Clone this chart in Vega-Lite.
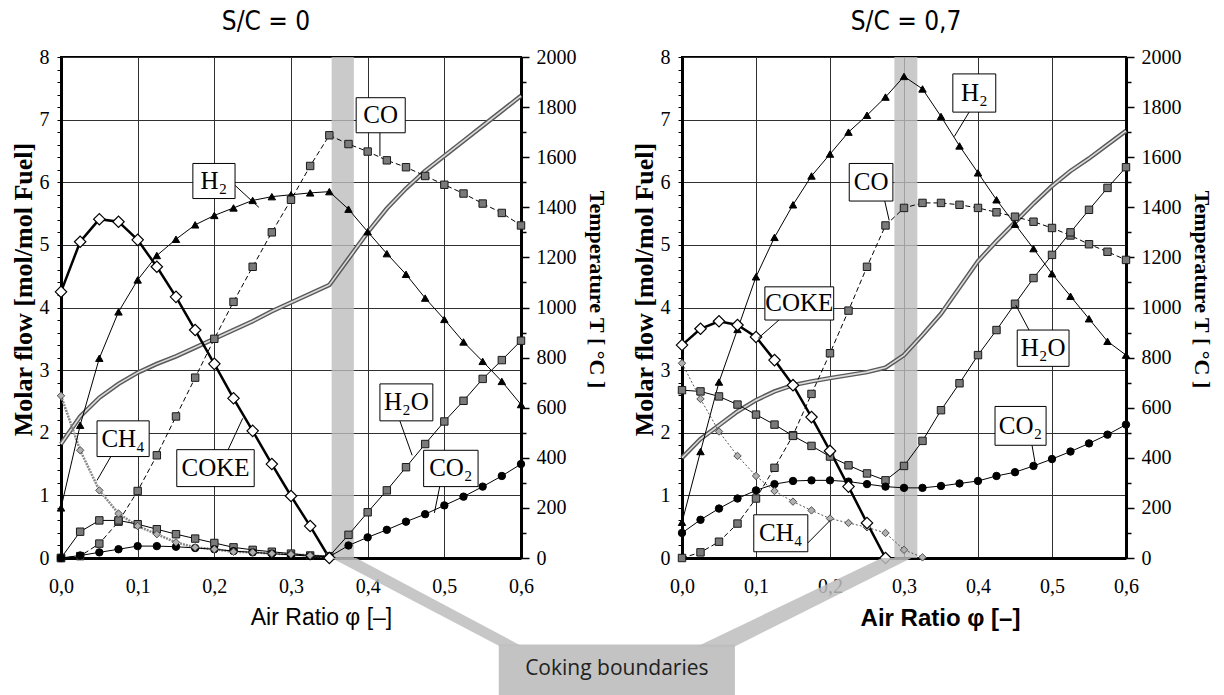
{
"$schema": "https://vega.github.io/schema/vega-lite/v6.json",
"autosize": {"type": "pad"},
"padding": {"left": 9, "top": 8, "right": 0, "bottom": 0},
"background": "white",
"bounds": "flush",
"spacing": 161,
"config": {"view": {"stroke": "black", "strokeWidth": 2}},
"datasets": {
"L": [
{"s":"COKE","phi":0,"v":4.25},{"s":"COKE","phi":0.025,"v":5.05},{"s":"COKE","phi":0.05,"v":5.41},{"s":"COKE","phi":0.075,"v":5.37},{"s":"COKE","phi":0.1,"v":5.08},{"s":"COKE","phi":0.125,"v":4.65},{"s":"COKE","phi":0.15,"v":4.17},{"s":"COKE","phi":0.175,"v":3.64},{"s":"COKE","phi":0.2,"v":3.10},{"s":"COKE","phi":0.225,"v":2.55},{"s":"COKE","phi":0.25,"v":2.03},{"s":"COKE","phi":0.275,"v":1.50},{"s":"COKE","phi":0.3,"v":0.99},{"s":"COKE","phi":0.325,"v":0.51},{"s":"COKE","phi":0.35,"v":0},
{"s":"H2","phi":0,"v":0.80},{"s":"H2","phi":0.025,"v":2.12},{"s":"H2","phi":0.05,"v":3.19},{"s":"H2","phi":0.075,"v":3.93},{"s":"H2","phi":0.1,"v":4.44},{"s":"H2","phi":0.125,"v":4.83},{"s":"H2","phi":0.15,"v":5.09},{"s":"H2","phi":0.175,"v":5.32},{"s":"H2","phi":0.2,"v":5.47},{"s":"H2","phi":0.225,"v":5.59},{"s":"H2","phi":0.25,"v":5.71},{"s":"H2","phi":0.275,"v":5.77},{"s":"H2","phi":0.3,"v":5.80},{"s":"H2","phi":0.325,"v":5.83},{"s":"H2","phi":0.35,"v":5.85},{"s":"H2","phi":0.375,"v":5.57},{"s":"H2","phi":0.4,"v":5.21},{"s":"H2","phi":0.425,"v":4.86},{"s":"H2","phi":0.45,"v":4.53},{"s":"H2","phi":0.475,"v":4.15},{"s":"H2","phi":0.5,"v":3.81},{"s":"H2","phi":0.525,"v":3.45},{"s":"H2","phi":0.55,"v":3.14},{"s":"H2","phi":0.575,"v":2.82},{"s":"H2","phi":0.6,"v":2.45},
{"s":"CO","phi":0,"v":0},{"s":"CO","phi":0.025,"v":0.03},{"s":"CO","phi":0.05,"v":0.23},{"s":"CO","phi":0.075,"v":0.58},{"s":"CO","phi":0.1,"v":1.07},{"s":"CO","phi":0.125,"v":1.64},{"s":"CO","phi":0.15,"v":2.26},{"s":"CO","phi":0.175,"v":2.88},{"s":"CO","phi":0.2,"v":3.50},{"s":"CO","phi":0.225,"v":4.09},{"s":"CO","phi":0.25,"v":4.65},{"s":"CO","phi":0.275,"v":5.20},{"s":"CO","phi":0.3,"v":5.72},{"s":"CO","phi":0.325,"v":6.26},{"s":"CO","phi":0.35,"v":6.75},{"s":"CO","phi":0.375,"v":6.61},{"s":"CO","phi":0.4,"v":6.49},{"s":"CO","phi":0.425,"v":6.35},{"s":"CO","phi":0.45,"v":6.24},{"s":"CO","phi":0.475,"v":6.10},{"s":"CO","phi":0.5,"v":5.96},{"s":"CO","phi":0.525,"v":5.82},{"s":"CO","phi":0.55,"v":5.66},{"s":"CO","phi":0.575,"v":5.51},{"s":"CO","phi":0.6,"v":5.31},
{"s":"H2O","phi":0,"v":0},{"s":"H2O","phi":0.025,"v":0.42},{"s":"H2O","phi":0.05,"v":0.60},{"s":"H2O","phi":0.075,"v":0.60},{"s":"H2O","phi":0.1,"v":0.54},{"s":"H2O","phi":0.125,"v":0.46},{"s":"H2O","phi":0.15,"v":0.38},{"s":"H2O","phi":0.175,"v":0.31},{"s":"H2O","phi":0.2,"v":0.24},{"s":"H2O","phi":0.225,"v":0.17},{"s":"H2O","phi":0.25,"v":0.13},{"s":"H2O","phi":0.275,"v":0.10},{"s":"H2O","phi":0.3,"v":0.07},{"s":"H2O","phi":0.325,"v":0.04},{"s":"H2O","phi":0.35,"v":0.03},{"s":"H2O","phi":0.375,"v":0.37},{"s":"H2O","phi":0.4,"v":0.73},{"s":"H2O","phi":0.425,"v":1.08},{"s":"H2O","phi":0.45,"v":1.45},{"s":"H2O","phi":0.475,"v":1.82},{"s":"H2O","phi":0.5,"v":2.18},{"s":"H2O","phi":0.525,"v":2.51},{"s":"H2O","phi":0.55,"v":2.86},{"s":"H2O","phi":0.575,"v":3.16},{"s":"H2O","phi":0.6,"v":3.47},
{"s":"CO2","phi":0,"v":0},{"s":"CO2","phi":0.025,"v":0.04},{"s":"CO2","phi":0.05,"v":0.09},{"s":"CO2","phi":0.075,"v":0.14},{"s":"CO2","phi":0.1,"v":0.19},{"s":"CO2","phi":0.125,"v":0.19},{"s":"CO2","phi":0.15,"v":0.18},{"s":"CO2","phi":0.175,"v":0.16},{"s":"CO2","phi":0.2,"v":0.14},{"s":"CO2","phi":0.225,"v":0.11},{"s":"CO2","phi":0.25,"v":0.09},{"s":"CO2","phi":0.275,"v":0.07},{"s":"CO2","phi":0.3,"v":0.05},{"s":"CO2","phi":0.325,"v":0.03},{"s":"CO2","phi":0.35,"v":0.02},{"s":"CO2","phi":0.375,"v":0.20},{"s":"CO2","phi":0.4,"v":0.33},{"s":"CO2","phi":0.425,"v":0.45},{"s":"CO2","phi":0.45,"v":0.58},{"s":"CO2","phi":0.475,"v":0.70},{"s":"CO2","phi":0.5,"v":0.84},{"s":"CO2","phi":0.525,"v":0.98},{"s":"CO2","phi":0.55,"v":1.14},{"s":"CO2","phi":0.575,"v":1.31},{"s":"CO2","phi":0.6,"v":1.50},
{"s":"CH4","phi":0,"v":2.59},{"s":"CH4","phi":0.025,"v":1.72},{"s":"CH4","phi":0.05,"v":1.08},{"s":"CH4","phi":0.075,"v":0.71},{"s":"CH4","phi":0.1,"v":0.51},{"s":"CH4","phi":0.125,"v":0.38},{"s":"CH4","phi":0.15,"v":0.25},{"s":"CH4","phi":0.175,"v":0.17},{"s":"CH4","phi":0.2,"v":0.14},{"s":"CH4","phi":0.225,"v":0.10},{"s":"CH4","phi":0.25,"v":0.09},{"s":"CH4","phi":0.275,"v":0.07},{"s":"CH4","phi":0.3,"v":0.06},{"s":"CH4","phi":0.325,"v":0.04},{"s":"CH4","phi":0.35,"v":0.02}
],
"R": [
{"s":"COKE","phi":0,"v":3.40},{"s":"COKE","phi":0.025,"v":3.66},{"s":"COKE","phi":0.05,"v":3.78},{"s":"COKE","phi":0.075,"v":3.72},{"s":"COKE","phi":0.1,"v":3.53},{"s":"COKE","phi":0.125,"v":3.16},{"s":"COKE","phi":0.15,"v":2.76},{"s":"COKE","phi":0.175,"v":2.25},{"s":"COKE","phi":0.2,"v":1.71},{"s":"COKE","phi":0.225,"v":1.14},{"s":"COKE","phi":0.25,"v":0.56},{"s":"COKE","phi":0.275,"v":0},
{"s":"H2","phi":0,"v":0.57},{"s":"H2","phi":0.025,"v":1.70},{"s":"H2","phi":0.05,"v":2.81},{"s":"H2","phi":0.075,"v":3.65},{"s":"H2","phi":0.1,"v":4.49},{"s":"H2","phi":0.125,"v":5.12},{"s":"H2","phi":0.15,"v":5.64},{"s":"H2","phi":0.175,"v":6.10},{"s":"H2","phi":0.2,"v":6.45},{"s":"H2","phi":0.225,"v":6.80},{"s":"H2","phi":0.25,"v":7.07},{"s":"H2","phi":0.275,"v":7.36},{"s":"H2","phi":0.3,"v":7.69},{"s":"H2","phi":0.325,"v":7.49},{"s":"H2","phi":0.35,"v":7.05},{"s":"H2","phi":0.375,"v":6.58},{"s":"H2","phi":0.4,"v":6.15},{"s":"H2","phi":0.425,"v":5.72},{"s":"H2","phi":0.45,"v":5.33},{"s":"H2","phi":0.475,"v":4.94},{"s":"H2","phi":0.5,"v":4.54},{"s":"H2","phi":0.525,"v":4.18},{"s":"H2","phi":0.55,"v":3.82},{"s":"H2","phi":0.575,"v":3.46},{"s":"H2","phi":0.6,"v":3.24},
{"s":"CO","phi":0,"v":0},{"s":"CO","phi":0.025,"v":0.09},{"s":"CO","phi":0.05,"v":0.26},{"s":"CO","phi":0.075,"v":0.55},{"s":"CO","phi":0.1,"v":0.95},{"s":"CO","phi":0.125,"v":1.44},{"s":"CO","phi":0.15,"v":1.96},{"s":"CO","phi":0.175,"v":2.62},{"s":"CO","phi":0.2,"v":3.27},{"s":"CO","phi":0.225,"v":3.95},{"s":"CO","phi":0.25,"v":4.65},{"s":"CO","phi":0.275,"v":5.31},{"s":"CO","phi":0.3,"v":5.59},{"s":"CO","phi":0.325,"v":5.67},{"s":"CO","phi":0.35,"v":5.67},{"s":"CO","phi":0.375,"v":5.64},{"s":"CO","phi":0.4,"v":5.59},{"s":"CO","phi":0.425,"v":5.52},{"s":"CO","phi":0.45,"v":5.45},{"s":"CO","phi":0.475,"v":5.37},{"s":"CO","phi":0.5,"v":5.27},{"s":"CO","phi":0.525,"v":5.15},{"s":"CO","phi":0.55,"v":5.01},{"s":"CO","phi":0.575,"v":4.89},{"s":"CO","phi":0.6,"v":4.76},
{"s":"H2O","phi":0,"v":2.68},{"s":"H2O","phi":0.025,"v":2.66},{"s":"H2O","phi":0.05,"v":2.58},{"s":"H2O","phi":0.075,"v":2.45},{"s":"H2O","phi":0.1,"v":2.29},{"s":"H2O","phi":0.125,"v":2.13},{"s":"H2O","phi":0.15,"v":1.95},{"s":"H2O","phi":0.175,"v":1.79},{"s":"H2O","phi":0.2,"v":1.62},{"s":"H2O","phi":0.225,"v":1.48},{"s":"H2O","phi":0.25,"v":1.35},{"s":"H2O","phi":0.275,"v":1.24},{"s":"H2O","phi":0.3,"v":1.47},{"s":"H2O","phi":0.325,"v":1.87},{"s":"H2O","phi":0.35,"v":2.36},{"s":"H2O","phi":0.375,"v":2.79},{"s":"H2O","phi":0.4,"v":3.24},{"s":"H2O","phi":0.425,"v":3.64},{"s":"H2O","phi":0.45,"v":4.06},{"s":"H2O","phi":0.475,"v":4.47},{"s":"H2O","phi":0.5,"v":4.84},{"s":"H2O","phi":0.525,"v":5.20},{"s":"H2O","phi":0.55,"v":5.56},{"s":"H2O","phi":0.575,"v":5.91},{"s":"H2O","phi":0.6,"v":6.24},
{"s":"CO2","phi":0,"v":0.40},{"s":"CO2","phi":0.025,"v":0.61},{"s":"CO2","phi":0.05,"v":0.79},{"s":"CO2","phi":0.075,"v":0.95},{"s":"CO2","phi":0.1,"v":1.08},{"s":"CO2","phi":0.125,"v":1.18},{"s":"CO2","phi":0.15,"v":1.23},{"s":"CO2","phi":0.175,"v":1.24},{"s":"CO2","phi":0.2,"v":1.24},{"s":"CO2","phi":0.225,"v":1.22},{"s":"CO2","phi":0.25,"v":1.18},{"s":"CO2","phi":0.275,"v":1.14},{"s":"CO2","phi":0.3,"v":1.12},{"s":"CO2","phi":0.325,"v":1.12},{"s":"CO2","phi":0.35,"v":1.15},{"s":"CO2","phi":0.375,"v":1.19},{"s":"CO2","phi":0.4,"v":1.23},{"s":"CO2","phi":0.425,"v":1.31},{"s":"CO2","phi":0.45,"v":1.37},{"s":"CO2","phi":0.475,"v":1.47},{"s":"CO2","phi":0.5,"v":1.58},{"s":"CO2","phi":0.525,"v":1.70},{"s":"CO2","phi":0.55,"v":1.83},{"s":"CO2","phi":0.575,"v":1.97},{"s":"CO2","phi":0.6,"v":2.13},
{"s":"CH4","phi":0,"v":3.11},{"s":"CH4","phi":0.025,"v":2.54},{"s":"CH4","phi":0.05,"v":2.02},{"s":"CH4","phi":0.075,"v":1.63},{"s":"CH4","phi":0.1,"v":1.31},{"s":"CH4","phi":0.125,"v":1.07},{"s":"CH4","phi":0.15,"v":0.90},{"s":"CH4","phi":0.175,"v":0.76},{"s":"CH4","phi":0.2,"v":0.63},{"s":"CH4","phi":0.225,"v":0.56},{"s":"CH4","phi":0.25,"v":0.49},{"s":"CH4","phi":0.275,"v":0.40},{"s":"CH4","phi":0.3,"v":0.13},{"s":"CH4","phi":0.325,"v":0.01}
],
"LT": [
{"phi":0,"T":455},{"phi":0.025,"T":565},{"phi":0.05,"T":640},{"phi":0.075,"T":695},{"phi":0.1,"T":740},{"phi":0.125,"T":775},{"phi":0.15,"T":805},{"phi":0.175,"T":840},{"phi":0.2,"T":875},{"phi":0.225,"T":910},{"phi":0.25,"T":945},{"phi":0.275,"T":985},{"phi":0.3,"T":1020},{"phi":0.325,"T":1055},{"phi":0.35,"T":1090},{"phi":0.375,"T":1195},{"phi":0.4,"T":1300},{"phi":0.425,"T":1395},{"phi":0.45,"T":1475},{"phi":0.475,"T":1545},{"phi":0.5,"T":1605},{"phi":0.525,"T":1665},{"phi":0.55,"T":1725},{"phi":0.575,"T":1785},{"phi":0.6,"T":1845}
],
"RT": [
{"phi":0,"T":400},{"phi":0.025,"T":475},{"phi":0.05,"T":530},{"phi":0.075,"T":585},{"phi":0.1,"T":630},{"phi":0.125,"T":665},{"phi":0.15,"T":690},{"phi":0.175,"T":705},{"phi":0.2,"T":718},{"phi":0.225,"T":730},{"phi":0.25,"T":742},{"phi":0.275,"T":760},{"phi":0.3,"T":810},{"phi":0.325,"T":890},{"phi":0.35,"T":975},{"phi":0.375,"T":1080},{"phi":0.4,"T":1185},{"phi":0.425,"T":1265},{"phi":0.45,"T":1340},{"phi":0.475,"T":1415},{"phi":0.5,"T":1485},{"phi":0.525,"T":1545},{"phi":0.55,"T":1595},{"phi":0.575,"T":1650},{"phi":0.6,"T":1705}
],
"LA": [
{"lab":"CO","x1":0.385,"x2":0.449,"y1":7.35,"y2":6.79,"tx":0.417,"ty":7.07,"lx1":0.416,"ly1":6.79,"lx2":0.416,"ly2":6.42},
{"lab":"H₂","x1":0.172,"x2":0.227,"y1":6.30,"y2":5.74,"tx":0.1995,"ty":6.02,"lx1":0.227,"ly1":5.95,"lx2":0.258,"ly2":5.60},
{"lab":"CH₄","x1":0.047,"x2":0.115,"y1":2.19,"y2":1.62,"tx":0.081,"ty":1.905,"lx1":0.065,"ly1":1.62,"lx2":0.047,"ly2":1.24},
{"lab":"COKE","x1":0.151,"x2":0.252,"y1":1.73,"y2":1.14,"tx":0.2015,"ty":1.435,"lx1":0.218,"ly1":1.73,"lx2":0.237,"ly2":2.23},
{"lab":"H₂O","x1":0.416,"x2":0.485,"y1":2.78,"y2":2.19,"tx":0.4505,"ty":2.485,"lx1":0.442,"ly1":2.19,"lx2":0.458,"ly2":1.64},
{"lab":"CO₂","x1":0.473,"x2":0.544,"y1":1.72,"y2":1.14,"tx":0.5085,"ty":1.43,"lx1":0.494,"ly1":1.14,"lx2":0.487,"ly2":0.72}
],
"RA": [
{"lab":"H₂","x1":0.366,"x2":0.424,"y1":7.73,"y2":7.12,"tx":0.395,"ty":7.425,"lx1":0.388,"ly1":7.12,"lx2":0.368,"ly2":6.73},
{"lab":"CO","x1":0.226,"x2":0.285,"y1":6.30,"y2":5.70,"tx":0.2555,"ty":6.0,"lx1":0.274,"ly1":5.70,"lx2":0.280,"ly2":5.39},
{"lab":"COKE","x1":0.112,"x2":0.205,"y1":4.33,"y2":3.80,"tx":0.1585,"ty":4.065,"lx1":0.131,"ly1":3.80,"lx2":0.103,"ly2":3.51},
{"lab":"CH₄","x1":0.097,"x2":0.170,"y1":0.69,"y2":0.10,"tx":0.1335,"ty":0.395,"lx1":0.170,"ly1":0.24,"lx2":0.201,"ly2":0.61},
{"lab":"H₂O","x1":0.453,"x2":0.523,"y1":3.64,"y2":3.06,"tx":0.488,"ty":3.35,"lx1":0.469,"ly1":3.64,"lx2":0.451,"ly2":4.04},
{"lab":"CO₂","x1":0.423,"x2":0.492,"y1":2.42,"y2":1.80,"tx":0.4575,"ty":2.11,"lx1":0.473,"ly1":1.80,"lx2":0.477,"ly2":1.53}
],
"LS": [{"v":0,"a":0.353,"b":0.385},{"v":-1.40,"a":0.571,"b":0.600}],
"RS": [{"v":0,"a":0.27,"b":0.31},{"v":-1.42,"a":0.019,"b":0.07}]
},
"hconcat": [
{
"width": 460, "height": 501,
"title": {"text": "S/C = 0", "frame": "group", "dx": -25, "offset": 12, "font": "Liberation Sans Narrow, DejaVu Sans Condensed, Liberation Sans", "fontSize": 26, "fontWeight": "normal", "color": "black"},
"resolve": {"scale": {"y": "independent"}},
"layer": [
{"data": {"values": [{"a": 0.353, "b": 0.382}]}, "mark": {"type": "rect", "fill": "#bdbdbd", "opacity": 0.8},
 "encoding": {"x": {"field": "a", "type": "quantitative", "scale": {"domain": [0, 0.6], "nice": false}}, "x2": {"field": "b"}}},
{"data": {"name": "LT"},
 "encoding": {"x": {"field": "phi", "type": "quantitative", "scale": {"domain": [0, 0.6], "nice": false}},
   "y": {"field": "T", "type": "quantitative", "scale": {"domain": [0, 2000], "nice": false},
     "axis": {"orient": "right", "values": [0,100,200,300,400,500,600,700,800,900,1000,1100,1200,1300,1400,1500,1600,1700,1800,1900,2000],
       "labelExpr": "datum.value % 200 === 0 ? format(datum.value, 'd') : ''", "labelOverlap": false, "labelFlush": false, "grid": false,
       "tickSize": {"condition": {"test": "datum.value % 200 === 0", "value": 8}, "value": 5}, "tickWidth": 1.5, "tickColor": "black",
       "domainWidth": 3, "domainColor": "black", "labelFont": "Liberation Serif", "labelFontSize": 20, "labelColor": "black", "labelPadding": 7,
       "title": "Temperature T [ °C ]", "titleFont": "Liberation Serif", "titleFontSize": 22, "titleFontWeight": "bold", "titleColor": "black", "titlePadding": 8, "titleY": 232}}},
 "layer": [
   {"mark": {"type": "line", "stroke": "#5a5a5a", "strokeWidth": 4.5}},
   {"mark": {"type": "line", "stroke": "#dcdcdc", "strokeWidth": 1.6}}
 ]},
{"data": {"name": "L"},
 "encoding": {"x": {"field": "phi", "type": "quantitative", "scale": {"domain": [0, 0.6], "nice": false},
     "axis": {"values": [0,0.1,0.2,0.3,0.4,0.5,0.6], "labelExpr": "replace(format(datum.value, '.1f'), '.', ',')", "labelFlush": false, "grid": true, "gridColor": "#303030", "gridWidth": 1,
       "ticks": false, "tickSize": 0, "domainWidth": 3, "domainColor": "black", "labelFont": "Liberation Serif", "labelFontSize": 20, "labelColor": "black", "labelPadding": 18,
       "title": "Air Ratio  φ [–]", "titleFont": "Liberation Sans", "titleFontSize": 23, "titleFontWeight": "normal", "titleColor": "black", "titlePadding": 10, "titleX": 260}},
   "y": {"field": "v", "type": "quantitative", "scale": {"domain": [0, 8], "nice": false},
     "axis": {"orient": "left", "values": [0,0.2,0.4,0.6,0.8,1,1.2,1.4,1.6,1.8,2,2.2,2.4,2.6,2.8,3,3.2,3.4,3.6,3.8,4,4.2,4.4,4.6,4.8,5,5.2,5.4,5.6,5.8,6,6.2,6.4,6.6,6.8,7,7.2,7.4,7.6,7.8,8],
       "labelExpr": "datum.value % 1 === 0 ? format(datum.value, 'd') : ''", "labelOverlap": false, "labelFlush": false, "grid": true, "gridColor": "#303030", "gridWidth": 1,
       "gridOpacity": {"condition": {"test": "datum.value % 1 === 0", "value": 1}, "value": 0},
       "tickSize": 4, "tickColor": "black", "domainWidth": 3, "domainColor": "black", "labelFont": "Liberation Serif", "labelFontSize": 20, "labelColor": "black", "labelPadding": 8,
       "title": "Molar flow [mol/mol Fuel]", "titleFont": "Liberation Serif", "titleFontSize": 26, "titleFontWeight": "bold", "titleColor": "black", "titlePadding": 3, "titleY": 232}}},
 "layer": [
   {"transform": [{"filter": "datum.s === 'CH4'"}], "mark": {"type": "line", "stroke": "#8a8a8a", "strokeWidth": 2.5, "strokeDash": [2, 1]}},
   {"transform": [{"filter": "datum.s === 'CO'"}], "mark": {"type": "line", "stroke": "black", "strokeWidth": 1, "strokeDash": [5, 3]}},
   {"transform": [{"filter": "datum.s === 'H2' || datum.s === 'H2O' || datum.s === 'CO2'"}], "mark": {"type": "line", "stroke": "black", "strokeWidth": 1}, "encoding": {"detail": {"field": "s"}}},
   {"transform": [{"filter": "datum.s === 'COKE'"}], "mark": {"type": "line", "stroke": "black", "strokeWidth": 2.5}},
   {"transform": [{"filter": "datum.s !== 'COKE'"}], "mark": {"type": "point", "filled": true, "size": 55, "strokeWidth": 1, "opacity": 1},
     "encoding": {"shape": {"field": "s", "scale": {"domain": ["H2","CO","H2O","CO2","CH4"], "range": ["triangle-up","square","square","circle","diamond"]}, "legend": null},
       "fill": {"field": "s", "scale": {"domain": ["H2","CO","H2O","CO2","CH4"], "range": ["black","#7a7a7a","#7a7a7a","black","#b0b0b0"]}, "legend": null},
       "stroke": {"field": "s", "scale": {"domain": ["H2","CO","H2O","CO2","CH4"], "range": ["black","#1a1a1a","#1a1a1a","black","#505050"]}, "legend": null}}},
   {"transform": [{"filter": "datum.s === 'COKE'"}], "mark": {"type": "point", "shape": "diamond", "filled": true, "fill": "white", "stroke": "black", "strokeWidth": 1.2, "size": 130, "opacity": 1}}
 ]},
{"layer": [
   {"data": {"name": "LS"}, "mark": {"type": "area", "orient": "horizontal", "fill": "#bdbdbd", "opacity": 0.85},
    "encoding": {"y": {"field": "v", "type": "quantitative", "scale": {"domain": [0, 8], "nice": false}, "axis": null},
      "x": {"field": "a", "type": "quantitative", "scale": {"domain": [0, 0.6], "nice": false}}, "x2": {"field": "b"}}},
   {"data": {"values": [{"t": "Coking boundaries", "a": 0.571, "b": 0.879, "y1": -1.383, "y2": -2.3, "tx": 0.725, "ty": -1.78}]},
    "layer": [
      {"mark": {"type": "rect", "fill": "#bdbdbd", "opacity": 0.9},
       "encoding": {"x": {"field": "a", "type": "quantitative", "scale": {"domain": [0, 0.6], "nice": false}}, "x2": {"field": "b"},
         "y": {"field": "y1", "type": "quantitative", "scale": {"domain": [0, 8], "nice": false}, "axis": null}, "y2": {"field": "y2"}}},
      {"mark": {"type": "text", "font": "Open Sans", "fontSize": 21, "color": "#222222", "align": "center", "baseline": "middle"},
       "encoding": {"x": {"field": "tx", "type": "quantitative", "scale": {"domain": [0, 0.6], "nice": false}},
         "y": {"field": "ty", "type": "quantitative", "scale": {"domain": [0, 8], "nice": false}, "axis": null}, "text": {"field": "t"}}}
    ]},
   {"data": {"name": "LA"},
    "layer": [
      {"mark": {"type": "rule", "stroke": "black", "strokeWidth": 1},
       "encoding": {"x": {"field": "lx1", "type": "quantitative", "scale": {"domain": [0, 0.6], "nice": false}}, "x2": {"field": "lx2"},
         "y": {"field": "ly1", "type": "quantitative", "scale": {"domain": [0, 8], "nice": false}, "axis": null}, "y2": {"field": "ly2"}}},
      {"mark": {"type": "rect", "fill": "white", "stroke": "black", "strokeWidth": 1},
       "encoding": {"x": {"field": "x1", "type": "quantitative", "scale": {"domain": [0, 0.6], "nice": false}}, "x2": {"field": "x2"},
         "y": {"field": "y1", "type": "quantitative", "scale": {"domain": [0, 8], "nice": false}, "axis": null}, "y2": {"field": "y2"}}},
      {"mark": {"type": "text", "font": "Liberation Serif", "fontSize": 25, "color": "black", "align": "center", "baseline": "middle"},
       "encoding": {"x": {"field": "tx", "type": "quantitative", "scale": {"domain": [0, 0.6], "nice": false}},
         "y": {"field": "ty", "type": "quantitative", "scale": {"domain": [0, 8], "nice": false}, "axis": null}, "text": {"field": "lab"}}}
    ]}
]}
]
},
{
"width": 444, "height": 501,
"title": {"text": "S/C = 0,7", "frame": "group", "dx": 2, "offset": 12, "font": "Liberation Sans Narrow, DejaVu Sans Condensed, Liberation Sans", "fontSize": 26, "fontWeight": "normal", "color": "black"},
"resolve": {"scale": {"y": "independent"}},
"layer": [
{"data": {"values": [{"a": 0.287, "b": 0.318}]}, "mark": {"type": "rect", "fill": "#bdbdbd", "opacity": 0.8},
 "encoding": {"x": {"field": "a", "type": "quantitative", "scale": {"domain": [0, 0.6], "nice": false}}, "x2": {"field": "b"}}},
{"data": {"name": "RT"},
 "encoding": {"x": {"field": "phi", "type": "quantitative", "scale": {"domain": [0, 0.6], "nice": false}},
   "y": {"field": "T", "type": "quantitative", "scale": {"domain": [0, 2000], "nice": false},
     "axis": {"orient": "right", "values": [0,100,200,300,400,500,600,700,800,900,1000,1100,1200,1300,1400,1500,1600,1700,1800,1900,2000],
       "labelExpr": "datum.value % 200 === 0 ? format(datum.value, 'd') : ''", "labelOverlap": false, "labelFlush": false, "grid": false,
       "tickSize": {"condition": {"test": "datum.value % 200 === 0", "value": 8}, "value": 5}, "tickWidth": 1.5, "tickColor": "black",
       "domainWidth": 3, "domainColor": "black", "labelFont": "Liberation Serif", "labelFontSize": 20, "labelColor": "black", "labelPadding": 7,
       "title": "Temperature T [ °C ]", "titleFont": "Liberation Serif", "titleFontSize": 22, "titleFontWeight": "bold", "titleColor": "black", "titlePadding": 8, "titleY": 232}}},
 "layer": [
   {"mark": {"type": "line", "stroke": "#5a5a5a", "strokeWidth": 4.5}},
   {"mark": {"type": "line", "stroke": "#dcdcdc", "strokeWidth": 1.6}}
 ]},
{"data": {"name": "R"},
 "encoding": {"x": {"field": "phi", "type": "quantitative", "scale": {"domain": [0, 0.6], "nice": false},
     "axis": {"values": [0,0.1,0.2,0.3,0.4,0.5,0.6], "labelExpr": "replace(format(datum.value, '.1f'), '.', ',')", "labelFlush": false, "grid": true, "gridColor": "#303030", "gridWidth": 1,
       "ticks": false, "tickSize": 0, "domainWidth": 3, "domainColor": "black", "labelFont": "Liberation Serif", "labelFontSize": 20, "labelColor": "black", "labelPadding": 18,
       "title": "Air Ratio  φ [–]", "titleFont": "Liberation Sans", "titleFontSize": 24, "titleFontWeight": "bold", "titleColor": "black", "titlePadding": 10, "titleX": 258}},
   "y": {"field": "v", "type": "quantitative", "scale": {"domain": [0, 8], "nice": false},
     "axis": {"orient": "left", "values": [0,0.2,0.4,0.6,0.8,1,1.2,1.4,1.6,1.8,2,2.2,2.4,2.6,2.8,3,3.2,3.4,3.6,3.8,4,4.2,4.4,4.6,4.8,5,5.2,5.4,5.6,5.8,6,6.2,6.4,6.6,6.8,7,7.2,7.4,7.6,7.8,8],
       "labelExpr": "datum.value % 1 === 0 ? format(datum.value, 'd') : ''", "labelOverlap": false, "labelFlush": false, "grid": true, "gridColor": "#303030", "gridWidth": 1,
       "gridOpacity": {"condition": {"test": "datum.value % 1 === 0", "value": 1}, "value": 0},
       "tickSize": 4, "tickColor": "black", "domainWidth": 3, "domainColor": "black", "labelFont": "Liberation Serif", "labelFontSize": 20, "labelColor": "black", "labelPadding": 8,
       "title": "Molar flow [mol/mol Fuel]", "titleFont": "Liberation Serif", "titleFontSize": 26, "titleFontWeight": "bold", "titleColor": "black", "titlePadding": 3, "titleY": 232}}},
 "layer": [
   {"transform": [{"filter": "datum.s === 'CH4'"}], "mark": {"type": "line", "stroke": "#555555", "strokeWidth": 1, "strokeDash": [2, 2]}},
   {"transform": [{"filter": "datum.s === 'CO'"}], "mark": {"type": "line", "stroke": "black", "strokeWidth": 1, "strokeDash": [5, 3]}},
   {"transform": [{"filter": "datum.s === 'H2' || datum.s === 'H2O' || datum.s === 'CO2'"}], "mark": {"type": "line", "stroke": "black", "strokeWidth": 1}, "encoding": {"detail": {"field": "s"}}},
   {"transform": [{"filter": "datum.s === 'COKE'"}], "mark": {"type": "line", "stroke": "black", "strokeWidth": 2.5}},
   {"transform": [{"filter": "datum.s !== 'COKE'"}], "mark": {"type": "point", "filled": true, "size": 55, "strokeWidth": 1, "opacity": 1},
     "encoding": {"shape": {"field": "s", "scale": {"domain": ["H2","CO","H2O","CO2","CH4"], "range": ["triangle-up","square","square","circle","diamond"]}, "legend": null},
       "fill": {"field": "s", "scale": {"domain": ["H2","CO","H2O","CO2","CH4"], "range": ["black","#7a7a7a","#7a7a7a","black","#b0b0b0"]}, "legend": null},
       "stroke": {"field": "s", "scale": {"domain": ["H2","CO","H2O","CO2","CH4"], "range": ["black","#1a1a1a","#1a1a1a","black","#505050"]}, "legend": null}}},
   {"transform": [{"filter": "datum.s === 'COKE'"}], "mark": {"type": "point", "shape": "diamond", "filled": true, "fill": "white", "stroke": "black", "strokeWidth": 1.2, "size": 130, "opacity": 1}}
 ]},
{"layer": [
   {"data": {"name": "RS"}, "mark": {"type": "area", "orient": "horizontal", "fill": "#bdbdbd", "opacity": 0.85},
    "encoding": {"y": {"field": "v", "type": "quantitative", "scale": {"domain": [0, 8], "nice": false}, "axis": null},
      "x": {"field": "a", "type": "quantitative", "scale": {"domain": [0, 0.6], "nice": false}}, "x2": {"field": "b"}}},
   {"data": {"name": "RA"},
    "layer": [
      {"mark": {"type": "rule", "stroke": "black", "strokeWidth": 1},
       "encoding": {"x": {"field": "lx1", "type": "quantitative", "scale": {"domain": [0, 0.6], "nice": false}}, "x2": {"field": "lx2"},
         "y": {"field": "ly1", "type": "quantitative", "scale": {"domain": [0, 8], "nice": false}, "axis": null}, "y2": {"field": "ly2"}}},
      {"mark": {"type": "rect", "fill": "white", "stroke": "black", "strokeWidth": 1},
       "encoding": {"x": {"field": "x1", "type": "quantitative", "scale": {"domain": [0, 0.6], "nice": false}}, "x2": {"field": "x2"},
         "y": {"field": "y1", "type": "quantitative", "scale": {"domain": [0, 8], "nice": false}, "axis": null}, "y2": {"field": "y2"}}},
      {"mark": {"type": "text", "font": "Liberation Serif", "fontSize": 25, "color": "black", "align": "center", "baseline": "middle"},
       "encoding": {"x": {"field": "tx", "type": "quantitative", "scale": {"domain": [0, 0.6], "nice": false}},
         "y": {"field": "ty", "type": "quantitative", "scale": {"domain": [0, 8], "nice": false}, "axis": null}, "text": {"field": "lab"}}}
    ]}
]}
]
}
]
}
